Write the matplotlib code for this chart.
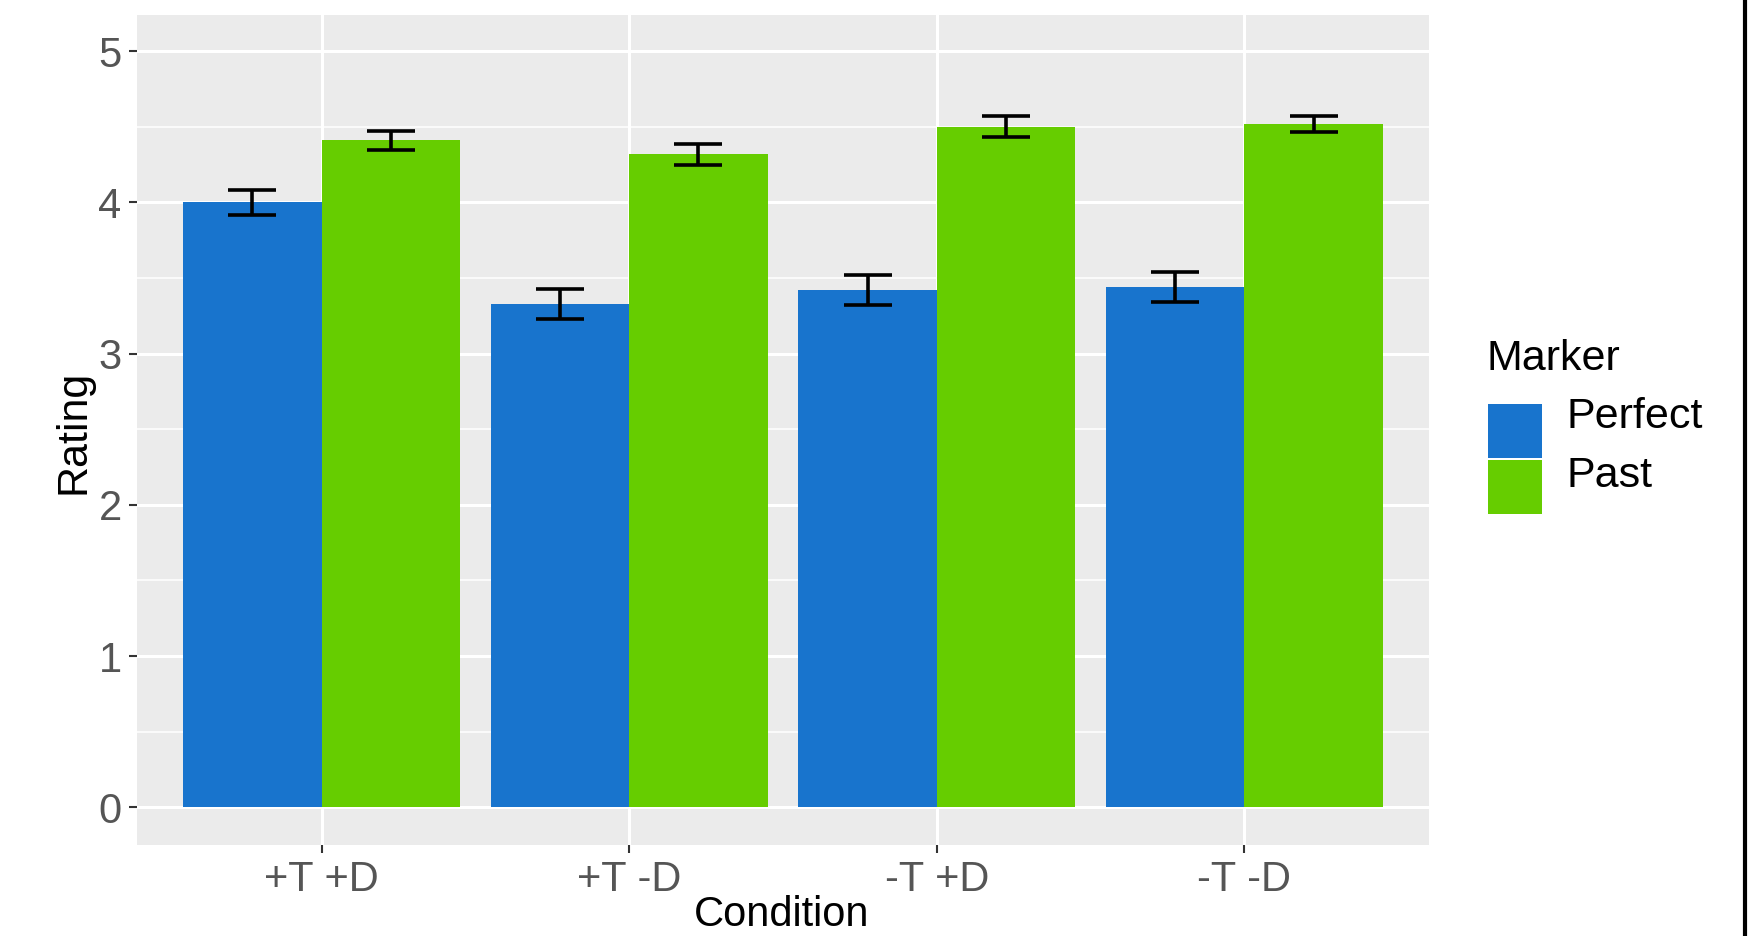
import numpy as np
import matplotlib
matplotlib.use('Agg')
import matplotlib.pyplot as plt
from matplotlib.patches import Rectangle

plt.rcParams['font.family'] = ['Liberation Sans', 'DejaVu Sans']

conditions = ['+T +D', '+T -D', '-T +D', '-T -D']
markers = ['Perfect', 'Past']
perfect = [4.00, 3.33, 3.42, 3.44]
past = [4.41, 4.32, 4.50, 4.52]
perfect_err = [0.08, 0.10, 0.10, 0.10]
past_err = [0.06, 0.07, 0.07, 0.055]
colors = ['#1874CD', '#66CD00']

W, H = 1760, 936
fig = plt.figure(figsize=(W/100, H/100), dpi=100)
ax = fig.add_axes([137/W, 1-845/H, (1429-137)/W, (845-15)/H])
ax.set_facecolor('#EBEBEB')

x = np.arange(len(conditions))
w = 0.45
ax.bar(x - w/2, perfect, w, color=colors[0], zorder=3)
ax.bar(x + w/2, past, w, color=colors[1], zorder=3)
ax.errorbar(x - w/2, perfect, yerr=perfect_err, fmt='none', ecolor='black',
            elinewidth=2.6, capsize=17, capthick=2.6, zorder=4)
ax.errorbar(x + w/2, past, yerr=past_err, fmt='none', ecolor='black',
            elinewidth=2.6, capsize=17, capthick=2.6, zorder=4)

ax.set_xlim(-0.6, 3.6)
ax.set_ylim(-0.25, 5.24)
ax.set_yticks(range(6))
ax.set_yticks(np.arange(0.5, 5, 1), minor=True)
ax.set_xticks(x)
ax.set_xticklabels(conditions)
ax.grid(which='major', color='white', linewidth=2.2, zorder=0)
ax.grid(which='minor', axis='y', color='white', linewidth=1.1, zorder=0)
ax.tick_params(axis='both', which='major', labelsize=30, labelcolor='#555555',
               color='#333333', length=6, width=1.5, pad=5)
ax.tick_params(axis='y', which='minor', length=0)
for s in ax.spines.values():
    s.set_visible(False)

fig.text(73/W, 1-432/H, 'Rating', rotation=90, ha='center', va='center',
         fontsize=31, color='black')
fig.text(782/W, 1-935/H, 'Condition', ha='center', va='bottom',
         fontsize=30, color='black')

# legend drawn by hand (ggplot style)
fig.text(1486/W, 1-359/H, 'Marker', ha='left', va='center',
         fontsize=31, color='black')
key_top = [404, 460]
label_y = [417, 476]
for i in range(len(markers)):
    fig.add_artist(Rectangle((1488/W, 1-(key_top[i]+54)/H), 54/W, 54/H,
                             facecolor=colors[i], edgecolor='none',
                             transform=fig.transFigure))
    fig.text(1566/W, 1-label_y[i]/H, markers[i], ha='left', va='center',
             fontsize=31, color='black')

# black border line at the right edge
fig.add_artist(plt.Line2D([1745/W, 1745/W], [0, 1], color='black',
                          linewidth=3, transform=fig.transFigure))

fig.savefig('out.png', dpi=100)
